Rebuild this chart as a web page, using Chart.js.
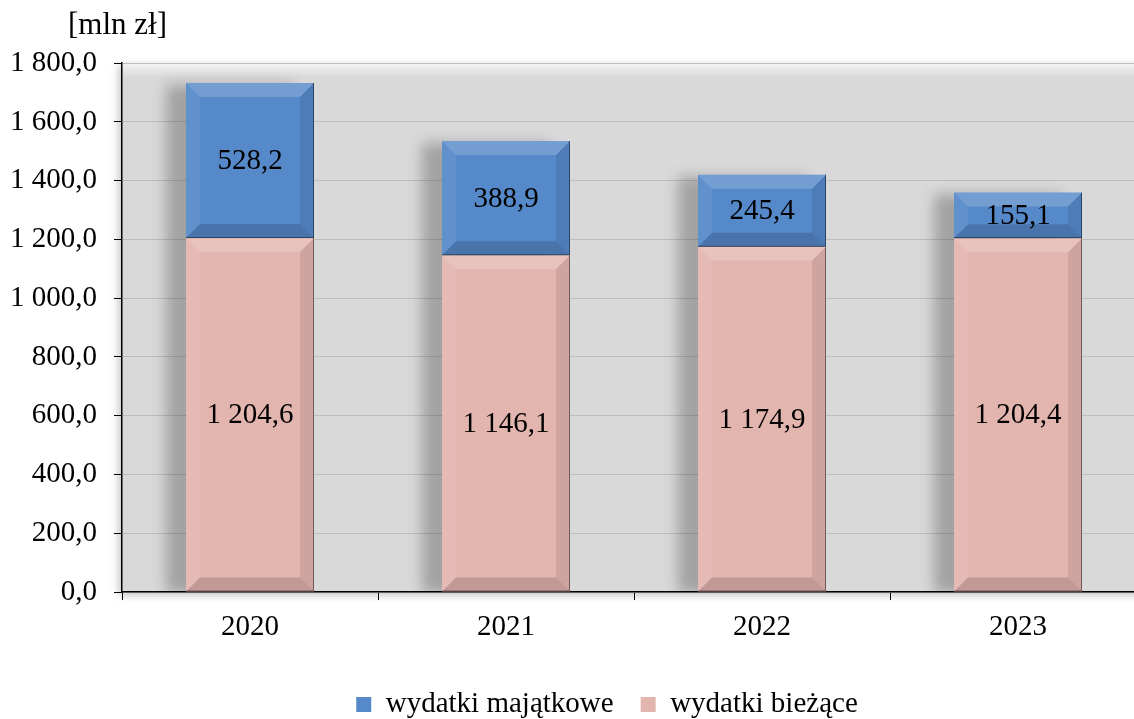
<!DOCTYPE html>
<html>
<head>
<meta charset="utf-8">
<script src="https://cdn.jsdelivr.net/npm/chart.js@4.4.0/dist/chart.umd.min.js"></script>
<style>
  html, body { margin: 0; padding: 0; background: #fff; overflow: hidden; }
  #wrap { width: 1146px; height: 729px; }
</style>
</head>
<body>
<div id="wrap"><canvas id="wydatki" width="1146" height="729"></canvas></div>
<script>
const years = ['2020', '2021', '2022', '2023'],
    wydatkiBiezace = [1204.6, 1146.1, 1174.9, 1204.4],
    wydatkiMajatkowe = [528.2, 388.9, 245.4, 155.1];

const serif = "'Liberation Serif', 'Times New Roman', serif";

// 1234.5 -> "1 234,5"
function plNum(v) {
    const parts = Number(v).toFixed(1).split('.');
    return parts[0].replace(/\B(?=(\d{3})+(?!\d))/g, ' ') + ',' + parts[1];
}

// plot area background + shadows behind the stacks
const plotBg = {
    id: 'plotBg',
    afterLayout(chart) {
        // let the y tick labels run past the narrow axis box
        chart.scales.y.left = 0;
    },
    beforeDraw(chart) {
        const { ctx, chartArea: a } = chart;
        ctx.save();
        ctx.shadowColor = 'rgba(0,0,0,0.25)';
        ctx.shadowBlur = 8;
        ctx.shadowOffsetX = -3;
        ctx.shadowOffsetY = 3;
        const g = ctx.createLinearGradient(0, a.top, 0, a.top + 14);
        g.addColorStop(0, '#f4f4f4');
        g.addColorStop(1, '#d9d9d9');
        ctx.fillStyle = g;
        ctx.fillRect(a.left, a.top, a.right - a.left, a.bottom - a.top);
        ctx.restore();
    },
    beforeDatasetsDraw(chart) {
        const { ctx, chartArea: a } = chart;
        const first = chart.getDatasetMeta(0).data,
            last = chart.getDatasetMeta(chart.data.datasets.length - 1).data;
        ctx.save();
        ctx.beginPath();
        ctx.rect(a.left, a.top, a.right - a.left, a.bottom - a.top);
        ctx.clip();
        ctx.filter = 'blur(7px)';
        ctx.fillStyle = 'rgba(0,0,0,0.25)';
        first.forEach((bar, i) => {
            const top = last[i].y, bottom = bar.base, w = bar.width;
            ctx.fillRect(bar.x - w / 2 - 20, top + 2, w, bottom - top);
        });
        ctx.restore();
    }
};

// bevelled look of the bars
const bevel = {
    id: 'bevel',
    afterDatasetsDraw(chart) {
        const ctx = chart.ctx;
        chart.data.datasets.forEach((ds, di) => {
            chart.getDatasetMeta(di).data.forEach(bar => {
                const p = bar.getProps(['x', 'y', 'base', 'width'], true);
                const l = p.x - p.width / 2, r = p.x + p.width / 2,
                    t = Math.min(p.y, p.base), b = Math.max(p.y, p.base);
                const s = Math.min(14, (b - t) / 3, p.width / 4);
                const poly = (pts, fill) => {
                    ctx.beginPath();
                    ctx.moveTo(pts[0][0], pts[0][1]);
                    pts.slice(1).forEach(q => ctx.lineTo(q[0], q[1]));
                    ctx.closePath();
                    ctx.fillStyle = fill;
                    ctx.fill();
                };
                ctx.save();
                poly([[l, t], [r, t], [r - s, t + s], [l + s, t + s]], 'rgba(255,255,255,0.18)');
                poly([[l, t], [l + s, t + s], [l + s, b - s], [l, b]], 'rgba(255,255,255,0.07)');
                poly([[r, t], [r, b], [r - s, b - s], [r - s, t + s]], 'rgba(0,0,0,0.09)');
                poly([[l, b], [l + s, b - s], [r - s, b - s], [r, b]], 'rgba(0,0,0,0.15)');
                ctx.strokeStyle = 'rgba(0,0,0,0.45)';
                ctx.lineWidth = 1;
                ctx.beginPath();
                ctx.moveTo(r - 0.5, t);
                ctx.lineTo(r - 0.5, b - 0.5);
                ctx.lineTo(l, b - 0.5);
                ctx.stroke();
                ctx.restore();
            });
        });
    }
};

// values in the middle of each segment
const segLabels = {
    id: 'segLabels',
    afterDatasetsDraw(chart) {
        const ctx = chart.ctx;
        ctx.save();
        ctx.font = '29px ' + serif;
        ctx.fillStyle = '#000';
        ctx.textAlign = 'center';
        ctx.textBaseline = 'middle';
        chart.data.datasets.forEach((ds, di) => {
            chart.getDatasetMeta(di).data.forEach((bar, i) => {
                ctx.fillText(plNum(ds.data[i]), bar.x, (bar.y + bar.base) / 2 + 1);
            });
        });
        ctx.restore();
    }
};

new Chart(document.getElementById('wydatki'), {
    type: 'bar',
    plugins: [plotBg, bevel, segLabels],
    data: {
        labels: years,
        datasets: [
            {
                label: 'wydatki bieżące',
                data: wydatkiBiezace,
                backgroundColor: '#e3b5af',
                borderWidth: 0,
            },
            {
                label: 'wydatki majątkowe',
                data: wydatkiMajatkowe,
                backgroundColor: '#5689c9',
                borderWidth: 0,
            }
        ]
    },
    options: {
        responsive: false,
        animation: false,
        layout: {
            padding: { left: 68, right: 0, top: 0, bottom: 0 }
        },
        datasets: {
            bar: {
                categoryPercentage: 1,
                barPercentage: 0.5,
            }
        },
        plugins: {
            tooltip: { enabled: false },
            title: {
                display: true,
                text: '[mln zł]',
                align: 'start',
                color: '#000',
                font: { family: serif, size: 31, weight: 'normal' },
                padding: { top: 7, bottom: 19 }
            },
            legend: {
                position: 'bottom',
                reverse: true,
                labels: {
                    color: '#000',
                    font: { family: serif, size: 29 },
                    boxWidth: 15,
                    boxHeight: 15,
                    padding: 27
                }
            }
        },
        scales: {
            x: {
                stacked: true,
                afterFit(scale) { scale.height = 71; },
                border: { color: '#000', width: 1.5 },
                grid: {
                    offset: true,
                    drawOnChartArea: false,
                    tickColor: '#000',
                    tickLength: 8
                },
                ticks: {
                    color: '#000',
                    padding: 10,
                    font: { family: serif, size: 29 }
                }
            },
            y: {
                stacked: true,
                min: 0,
                max: 1800,
                afterFit(scale) { scale.width = 54; },
                border: { color: '#000', width: 1.5 },
                grid: {
                    color: '#bdbdbd',
                    tickColor: '#000',
                    tickLength: 8
                },
                ticks: {
                    stepSize: 200,
                    color: '#000',
                    padding: 17,
                    font: { family: serif, size: 29 },
                    callback: v => plNum(v)
                }
            }
        }
    }
});
</script>
</body>
</html>
